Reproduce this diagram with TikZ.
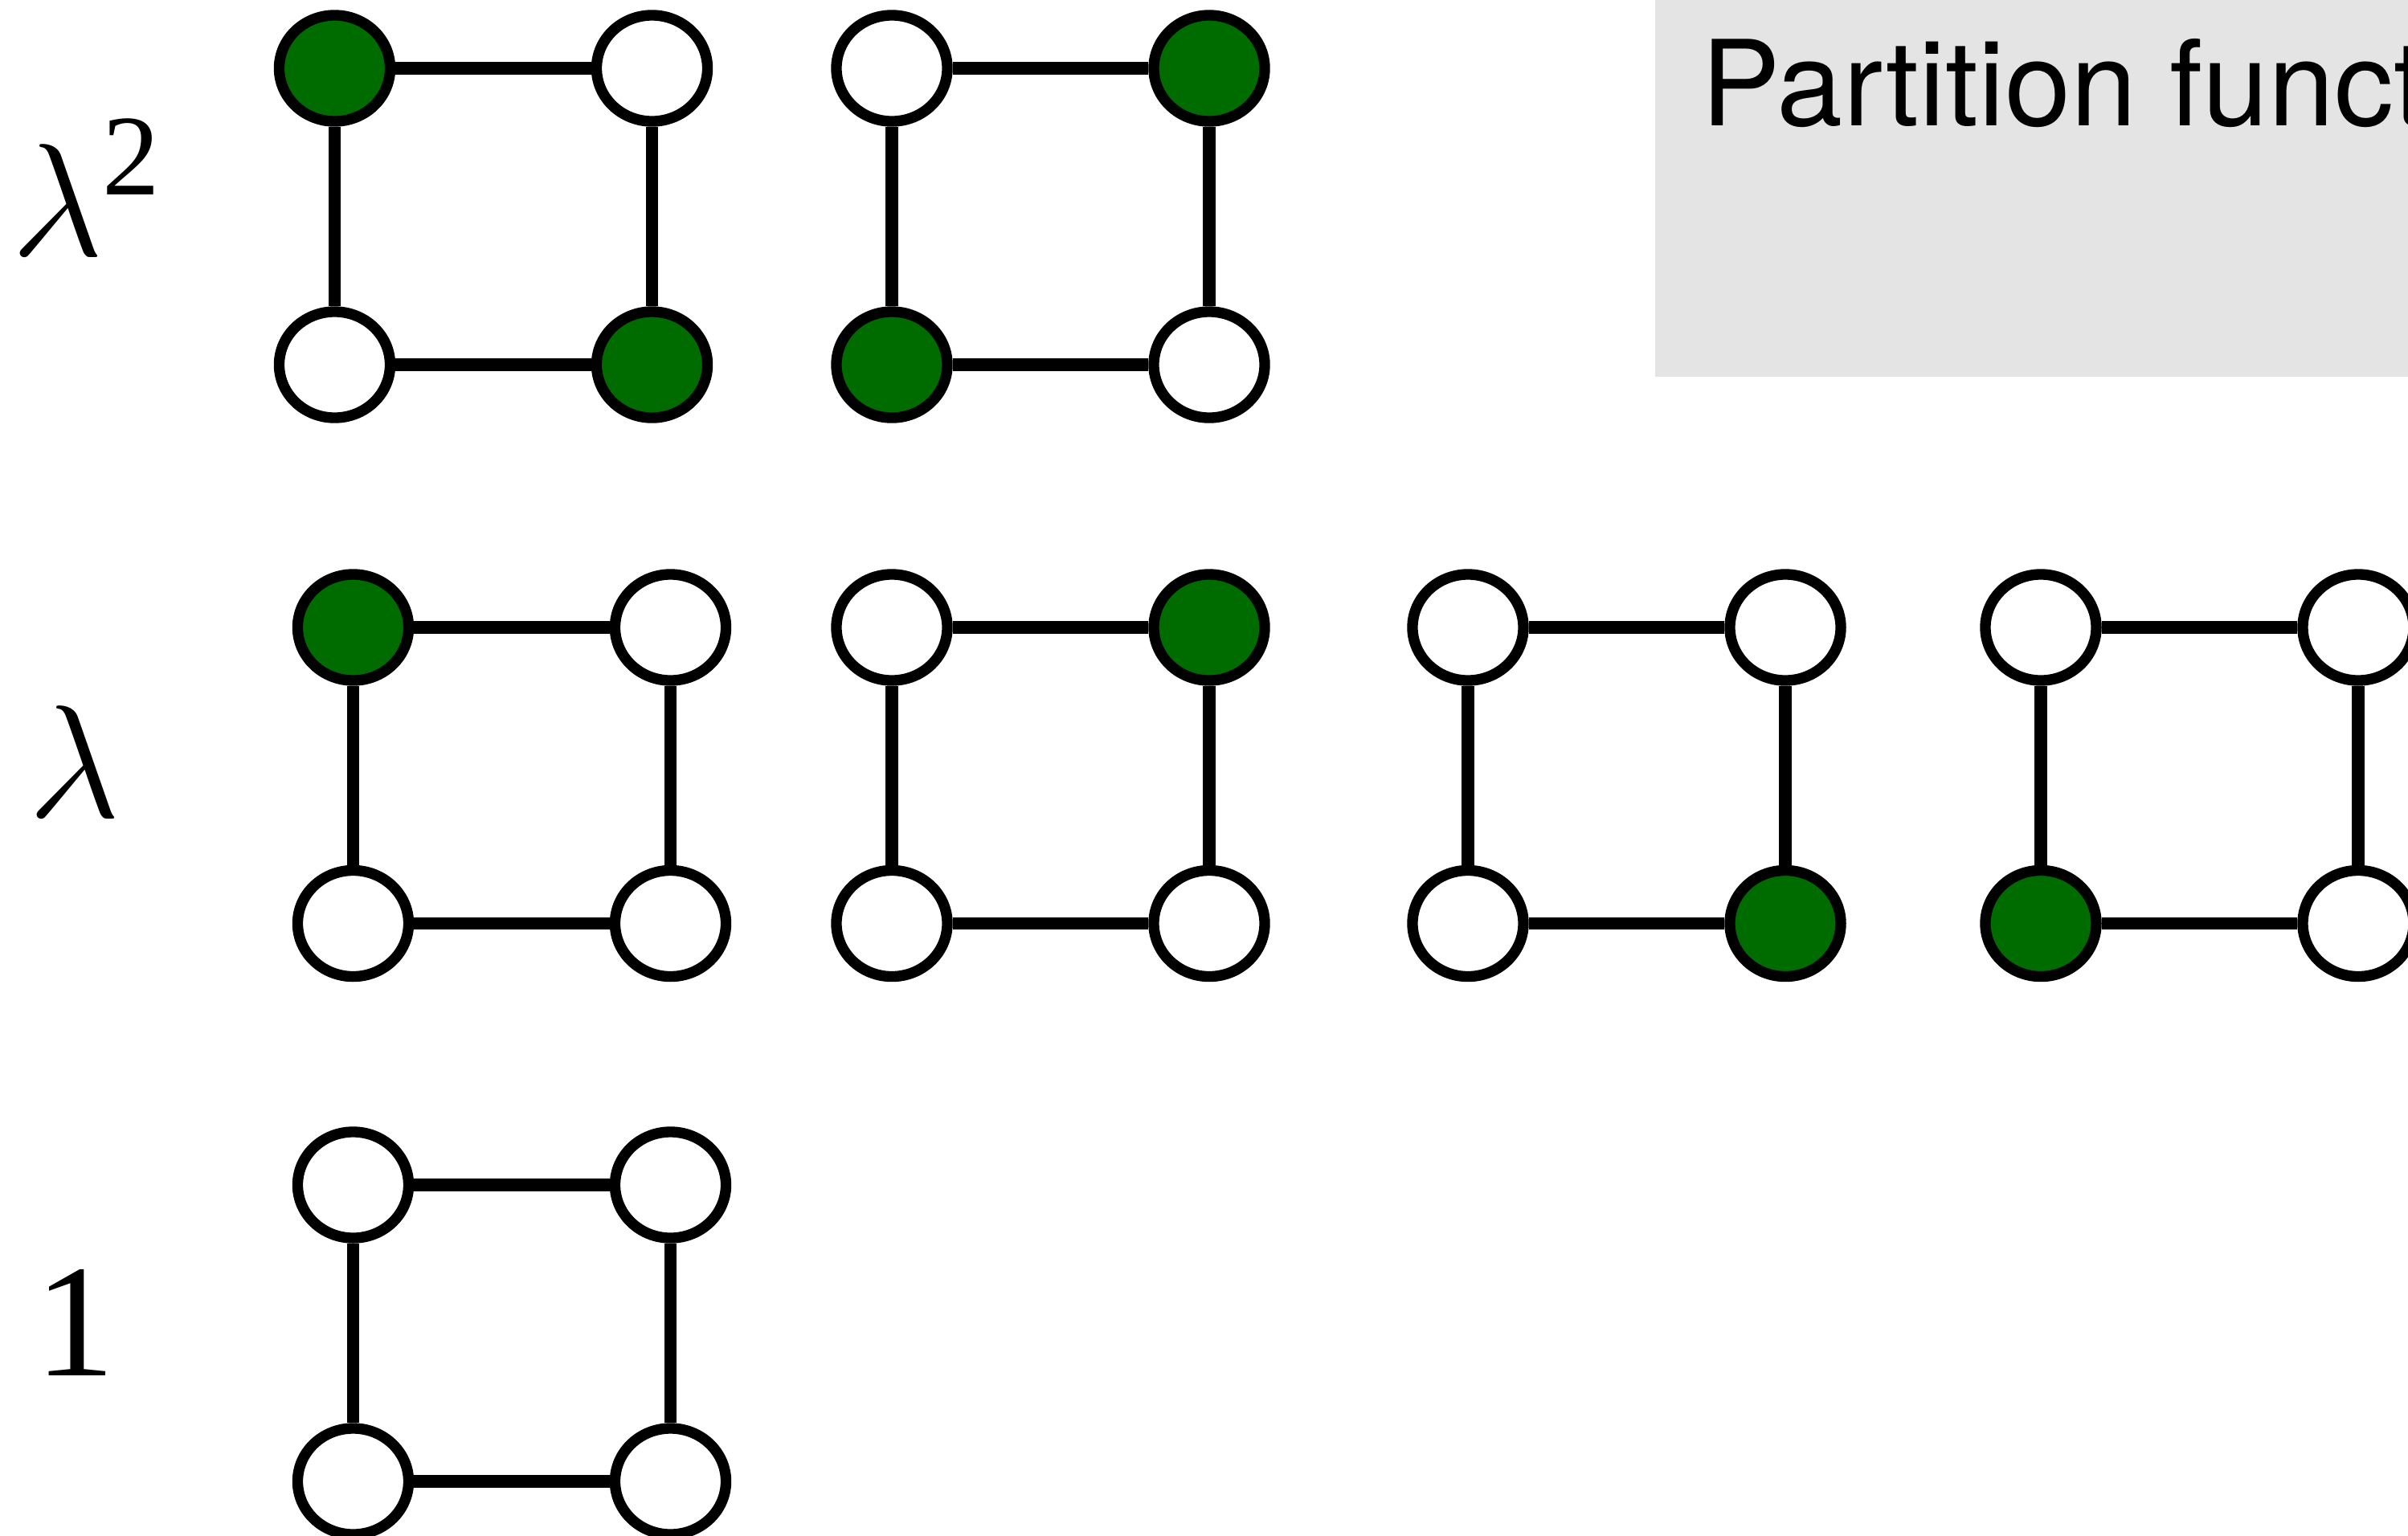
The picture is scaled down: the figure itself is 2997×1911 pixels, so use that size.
\documentclass[tikz,border=0pt]{standalone}
\usepackage{fix-cm}
\usepackage{fontspec}
\newfontfamily\heros{TeX Gyre Heros}
\newfontfamily\tnr{Liberation Serif}
\usetikzlibrary{shapes.geometric}
\definecolor{occ}{RGB}{0,108,0}
\definecolor{panel}{RGB}{228,228,228}
\tikzset{
  site/.style={ellipse, draw=black, line width=3.8pt, fill=white,
    minimum width=1.38cm, minimum height=1.32cm, inner sep=0pt},
  bond/.style={line width=4.4pt, black},
  lbl/.style={anchor=base west, inner sep=0pt, font=\tnr\fontsize{56.9pt}{60pt}\selectfont}
}
\newcommand{\plaq}[9]{%
  \node[site, fill=#6] (#1tl) at (#2,#4) {};
  \node[site, fill=#7] (#1tr) at (#3,#4) {};
  \node[site, fill=#8] (#1bl) at (#2,#5) {};
  \node[site, fill=#9] (#1br) at (#3,#5) {};
  \draw[bond] (#1tl) -- (#1tr);
  \draw[bond] (#1bl) -- (#1br);
  \draw[bond] (#1tl) -- (#1bl);
  \draw[bond] (#1tr) -- (#1br);
}
\begin{document}
\begin{tikzpicture}[x=0.01cm, y=-0.01cm]
\useasboundingbox (0,0) rectangle (2997,1911);
% panel
\fill[panel] (2060,-20) rectangle (3100,469);
\node[anchor=base west, inner sep=0pt] (title) at (2117,156)
  {\heros\fontsize{42pt}{48pt}\selectfont Partition function};
% labels
\node[lbl] (lam2) at (14,318) {$\lambda$\kern -0.5pt\raisebox{21.6pt}{\fontsize{40.7pt}{44pt}\selectfont 2}};
\node[lbl] (lam1) at (35,1017) {$\lambda$};
\node[lbl] (one) at (43,1712) {1};
% row 1
\plaq{a}{416.5}{811.5}{85}{454}{occ}{white}{white}{occ}
\plaq{b}{1110}{1505}{85}{454}{white}{occ}{occ}{white}
% row 2
\plaq{c}{439.5}{834.5}{781}{1149.5}{occ}{white}{white}{white}
\plaq{d}{1110}{1505}{781}{1149.5}{white}{occ}{white}{white}
\plaq{e}{1827}{2222}{781}{1149.5}{white}{white}{white}{occ}
\plaq{f}{2540}{2935}{781}{1149.5}{white}{white}{occ}{white}
% row 3
\plaq{g}{439.5}{834.5}{1475}{1844}{white}{white}{white}{white}
\end{tikzpicture}
\end{document}
